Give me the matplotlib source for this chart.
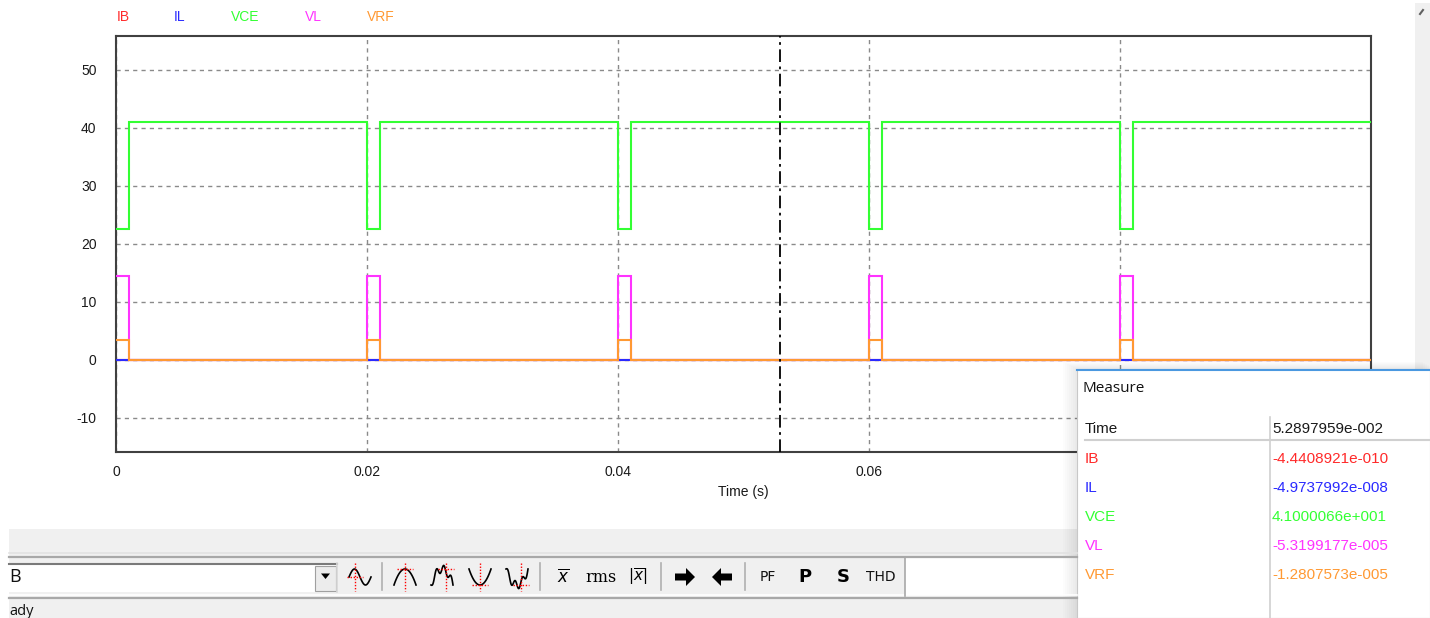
import numpy as np
import matplotlib
matplotlib.use('Agg')
import matplotlib.pyplot as plt
from matplotlib.patches import Rectangle, Polygon

plt.rcParams['font.family'] = ['Liberation Sans', 'DejaVu Sans']
plt.rcParams['axes.unicode_minus'] = False

W, H = 1430, 618

# step waveforms: one level for each interval between consecutive edges
edges = [0.0, 0.001, 0.020, 0.021, 0.040, 0.041, 0.060, 0.061, 0.080, 0.081, 0.100]
ib = [0.0, 0.0, 0.0, 0.0, 0.0, 0.0, 0.0, 0.0, 0.0, 0.0]
il = [0.0, 0.0, 0.0, 0.0, 0.0, 0.0, 0.0, 0.0, 0.0, 0.0]
vce = [22.5, 41.0, 22.5, 41.0, 22.5, 41.0, 22.5, 41.0, 22.5, 41.0]
vl = [14.5, 0.0, 14.5, 0.0, 14.5, 0.0, 14.5, 0.0, 14.5, 0.0]
vrf = [3.5, 0.0, 3.5, 0.0, 3.5, 0.0, 3.5, 0.0, 3.5, 0.0]

names = ['IB', 'IL', 'VCE', 'VL', 'VRF']
colors = ['#ff2a2a', '#2a2aff', '#33ff33', '#ff33ff', '#ff9933']
series = [ib, il, vce, vl, vrf]

x_ticks = [0.0, 0.02, 0.04, 0.06, 0.08]
x_labels = ['0', '0.02', '0.04', '0.06', '0.08']
y_ticks = [-10, 0, 10, 20, 30, 40, 50]

cursor_time = 0.052897959
measure_time = '5.2897959e-002'
measure_values = ['-4.4408921e-010', '-4.9737992e-008', '4.1000066e+001',
                  '-5.3199177e-005', '-1.2807573e-005']

fig = plt.figure(figsize=(W / 100, H / 100), dpi=100)
fig.patch.set_facecolor('white')

# plot area (pixel box 116..1371 x 36..452)
ax = fig.add_axes([116 / W, 1 - 452 / H, (1371 - 116) / W, (452 - 36) / H])
ax.set_xlim(0, 0.1)
ax.set_ylim(-15.87, 55.86)
ax.set_xticks(x_ticks, labels=x_labels)
ax.set_yticks(y_ticks)
ax.grid(True, color='#8a8a8a', linestyle=(0, (3, 3)), linewidth=1.0)
ax.set_axisbelow(True)
ax.tick_params(length=0, labelsize=10, colors='#1a1a1a')
ax.tick_params(axis='y', pad=14)
ax.tick_params(axis='x', pad=9)
for s in ax.spines.values():
    s.set_color('#404040')
    s.set_linewidth(1.5)
ax.set_xlabel('Time (s)', fontsize=10, color='#1a1a1a', labelpad=5)

for vals, c in zip(series, colors):
    ax.stairs(vals, edges, baseline=None, color=c, linewidth=1.5, zorder=3)

ax.axvline(cursor_time, color='black', linewidth=1.3,
           linestyle=(0, (7, 2.5, 1.5, 2.5)), zorder=4)

# signal names above the plot
for i, (n, c) in enumerate(zip(names, colors)):
    x = [123, 180, 245, 313, 381][i]
    fig.text(x / W, 1 - 17 / H, n, color=c, fontsize=10, ha='center', va='center')

# window chrome drawn in pixel coordinates
ov = fig.add_axes([0, 0, 1, 1], zorder=5)
ov.set_xlim(0, W)
ov.set_ylim(H, 0)
ov.axis('off')
ov.patch.set_alpha(0)

ov.add_patch(Rectangle((1415, 3), 15, 366, fc='#f0f0f0', ec='none'))
ov.plot([1420, 1423], [14, 10], color='#606060', lw=1.5)

# lower panel, toolbar and status bar
ov.add_patch(Rectangle((9, 529), 1068, 89, fc='#f0f0f0', ec='none'))
ov.plot([9, 1077], [553, 553], color='#e2e2e2', lw=1.2)
ov.plot([9, 1077], [556.5, 556.5], color='#a8a8a8', lw=1.6)
ov.plot([9, 1077], [594.5, 594.5], color='#ffffff', lw=1.2)
ov.plot([9, 1077], [597.5, 597.5], color='#a8a8a8', lw=1.6)

# selection box
ov.add_patch(Rectangle((9, 563), 328, 29, fc='white', ec='none'))
ov.plot([9, 337], [563.5, 563.5], color='#7a7a7a', lw=1.5)
ov.plot([336.5, 336.5], [563, 592], color='#d8d8d8', lw=1.2)
ov.add_patch(Rectangle((315, 565.5), 21, 25, fc='#ececec', ec='#a0a0a0', lw=0.8))
ov.add_patch(Polygon([(321, 573.5), (330, 573.5), (325.5, 579)], closed=True, fc='black', ec='none'))
ov.text(9, 577, 'B', fontsize=13, family='Open Sans', ha='left', va='center', color='#111111')
ov.text(9, 604, 'ady', fontsize=10.5, family='Open Sans', ha='left', va='top', color='#111111')

# toolbar separators
for sx in [382, 540, 661, 745]:
    ov.plot([sx, sx], [563, 590], color='#b0b0b0', lw=1.2)

# waveform measurement icons
def wave_icon(cx, kind, cy=577):
    t = np.linspace(-1, 1, 60)
    if kind == 'zero':
        shape = -np.sin(np.pi * t)
        mx, my = -5, 0
    elif kind == 'max':
        shape = 1 - 2 * t ** 2
        mx, my = 0, 1
    elif kind == 'max2':
        shape = 1 - 2 * t ** 2 + 0.5 * np.sin(3 * np.pi * t)
        mx, my = 0.35, 0.95
    elif kind == 'min':
        shape = -(1 - 2 * t ** 2)
        mx, my = 0, -1
    else:
        shape = -(1 - 2 * t ** 2) - 0.5 * np.sin(3 * np.pi * t)
        mx, my = 0.35, -0.95
    ov.plot(cx + 11 * t, cy - 8 * shape, color='black', lw=1.2)
    px = cx + (mx if kind == 'zero' else 11 * mx)
    py = cy - 8 * my
    ov.plot([px, px], [cy - 14, cy + 14], color='red', lw=1.0, linestyle=(0, (1, 1.2)))
    ov.plot([px - 8, px + 8], [py, py], color='red', lw=1.0, linestyle=(0, (1, 1.2)))

wave_icon(360, 'zero')
wave_icon(405, 'max')
wave_icon(442, 'max2')
wave_icon(480, 'min')
wave_icon(517, 'min2')

ov.text(563, 577, r'$\overline{x}$', fontsize=12, ha='center', va='center', family='DejaVu Serif')
ov.text(601, 577, 'rms', fontsize=11.5, ha='center', va='center', family='DejaVu Serif')
ov.text(638, 577, r'$|\overline{x}|$', fontsize=11, ha='center', va='center', family='DejaVu Serif')

right_arrow = [(-10, -3.5), (1, -3.5), (1, -9), (10, 0), (1, 9), (1, 3.5), (-10, 3.5)]
ov.add_patch(Polygon([(685 + dx, 577 + dy) for dx, dy in right_arrow], closed=True, fc='black', ec='none'))
ov.add_patch(Polygon([(722 - dx, 577 + dy) for dx, dy in right_arrow], closed=True, fc='black', ec='none'))

ov.text(768, 577, 'PF', fontsize=10, ha='center', va='center', family='DejaVu Sans', color='#111111')
ov.text(805, 577, 'P', fontsize=13, ha='center', va='center', family='DejaVu Sans', weight='bold')
ov.text(843, 577, 'S', fontsize=13, ha='center', va='center', family='DejaVu Sans', weight='bold')
ov.text(881, 577, 'THD', fontsize=10, ha='center', va='center', family='DejaVu Sans', color='#111111')

ov.add_patch(Rectangle((905, 557), 172, 38, fc='white', ec='none'))
ov.plot([905, 905], [557, 596], color='#a8a8a8', lw=1.2)

# soft shadow around the measure window
for k in range(8):
    ov.add_patch(Rectangle((1077 - 2 * k, 369 - k), 360, 260, fc='black', alpha=0.012, ec='none'))

# measure window
ov.add_patch(Rectangle((1077, 369), 353, 249, fc='white', ec='#c8c8c8', lw=0.8))
ov.plot([1077, 1430], [370, 370], color='#4a98e0', lw=1.5)
ov.text(1082, 388, 'Measure', fontsize=11, family='Open Sans', ha='left', va='center', color='#111111')
ov.plot([1270, 1270], [417, 618], color='#d0d0d0', lw=1.2)
ov.plot([1085, 1430], [440, 440], color='#d0d0d0', lw=1.5)
ov.text(1085, 429, 'Time', fontsize=11, ha='left', va='center', color='#1a1a1a')
ov.text(1272, 429, measure_time, fontsize=11, ha='left', va='center', color='#1a1a1a')
for i, (n, c, v) in enumerate(zip(names, colors, measure_values)):
    ry = 459 + 29 * i
    ov.text(1085, ry, n, fontsize=11, ha='left', va='center', color=c)
    ov.text(1272, ry, v, fontsize=11, ha='left', va='center', color=c)

fig.savefig('out.png', dpi=100)
